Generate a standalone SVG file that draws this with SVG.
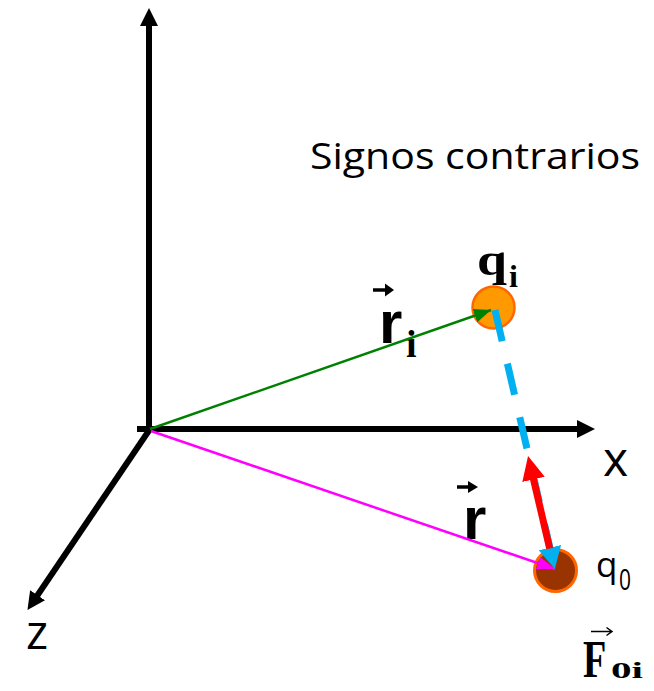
<svg xmlns="http://www.w3.org/2000/svg" width="654" height="691" viewBox="0 0 654 691">
<style>
.axis{stroke:#000;stroke-width:6;fill:none}
.lbl{font-family:"Open Sans","Liberation Sans",sans-serif;fill:#000}
.bs{font-family:"Liberation Serif",serif;font-weight:bold;fill:#000}
.bsans{font-family:"Liberation Sans",sans-serif;font-weight:bold;fill:#000}
.vec{stroke:#000;stroke-width:3.5;fill:none}
</style>
<defs>
<marker id="axHead" markerUnits="userSpaceOnUse" markerWidth="19" markerHeight="18" refX="1" refY="9" orient="auto" viewBox="0 0 19 18">
<path d="M0,0 L18,9 L0,18 z" fill="#000"/>
</marker>
<marker id="gHead" markerUnits="userSpaceOnUse" markerWidth="17" markerHeight="14" refX="17" refY="7" orient="auto" viewBox="0 0 17 14">
<path d="M0,0 L17,7 L0,14 z" fill="#008000"/>
</marker>
<marker id="mHead" markerUnits="userSpaceOnUse" markerWidth="18" markerHeight="13" refX="18" refY="6.5" orient="auto" viewBox="0 0 18 13">
<path d="M0,0 L18,6.5 L0,13 z" fill="#ff00ff"/>
</marker>
<marker id="bHead" markerUnits="userSpaceOnUse" markerWidth="23" markerHeight="23" refX="1" refY="11.5" orient="auto" viewBox="0 0 23 23">
<path d="M0,0 L22,11.5 L0,23 z" fill="#00b0f0"/>
</marker>
<marker id="rHead" markerUnits="userSpaceOnUse" markerWidth="25" markerHeight="23" refX="1" refY="11.5" orient="auto" viewBox="0 0 25 23">
<path d="M0,0 L24,11.5 L0,23 z" fill="#ff0000"/>
</marker>
</defs>
<rect width="654" height="691" fill="#fff"/>
<g id="axes">
<path class="axis" d="M149,432 V25" marker-end="url(#axHead)"/>
<path class="axis" d="M137,429 H578" marker-end="url(#axHead)"/>
<path class="axis" d="M150,429 L37,596" marker-end="url(#axHead)"/>
<text class="lbl" x="603" y="476" font-size="48">x</text>
<text class="lbl" x="26" y="649" font-size="47">z</text>
</g>
<text id="title" class="lbl" x="310" y="169" font-size="37" textLength="330" lengthAdjust="spacingAndGlyphs">Signos contrarios</text>
<g id="qi">
<circle cx="493.5" cy="307.5" r="21" fill="#ff9900" stroke="#ff6600" stroke-width="2.5"/>
<text class="bs" x="477" y="275" font-size="46" textLength="30" lengthAdjust="spacingAndGlyphs">q</text>
<text class="bs" x="509" y="287" font-size="32">i</text>
</g>
<g id="q0">
<circle cx="555.5" cy="570.5" r="21" fill="#993300" stroke="#ff6600" stroke-width="3"/>
<text class="lbl" x="596" y="577" font-size="35">q</text>
<text class="lbl" x="619" y="590" font-size="30" textLength="12" lengthAdjust="spacingAndGlyphs">0</text>
</g>
<g id="ri-label">
<path class="vec" d="M373,290 H386"/>
<path d="M385,283.5 L394,290 L385,296.5 z" fill="#000"/>
<text class="bsans" x="379" y="343" font-size="60">r</text>
<text class="bs" x="406" y="357" font-size="38">i</text>
</g>
<g id="r-label">
<path class="vec" d="M457,487 H469"/>
<path d="M468,481 L478,487 L468,493 z" fill="#000"/>
<text class="bsans" x="463" y="539" font-size="60">r</text>
</g>
<g id="F0i-label">
<path d="M591,631.5 H612 M606.5,627.5 L612,631.5 L606.5,635.5" stroke="#000" stroke-width="1.5" fill="none"/>
<text class="bs" transform="translate(583,677) scale(0.72,1)" x="0" y="0" font-size="53">F</text>
<text class="bs" x="611" y="678" font-size="23" textLength="32" lengthAdjust="spacingAndGlyphs">0i</text>
</g>
<g id="connectors">
<path d="M150,429 L491,310" stroke="#008000" stroke-width="2.5" fill="none" marker-end="url(#gHead)"/>
<path d="M151,431 L555,569" stroke="#ff00ff" stroke-width="2.5" fill="none" marker-end="url(#mHead)"/>
<path d="M495,310 L550.1,548.6" stroke="#00b0f0" stroke-width="7" stroke-dasharray="32 23" fill="none" marker-end="url(#bHead)"/>
<path d="M549.7,548.5 L533.3,478.4" stroke="#ff0000" stroke-width="7" fill="none" marker-end="url(#rHead)"/>
</g>
</svg>
